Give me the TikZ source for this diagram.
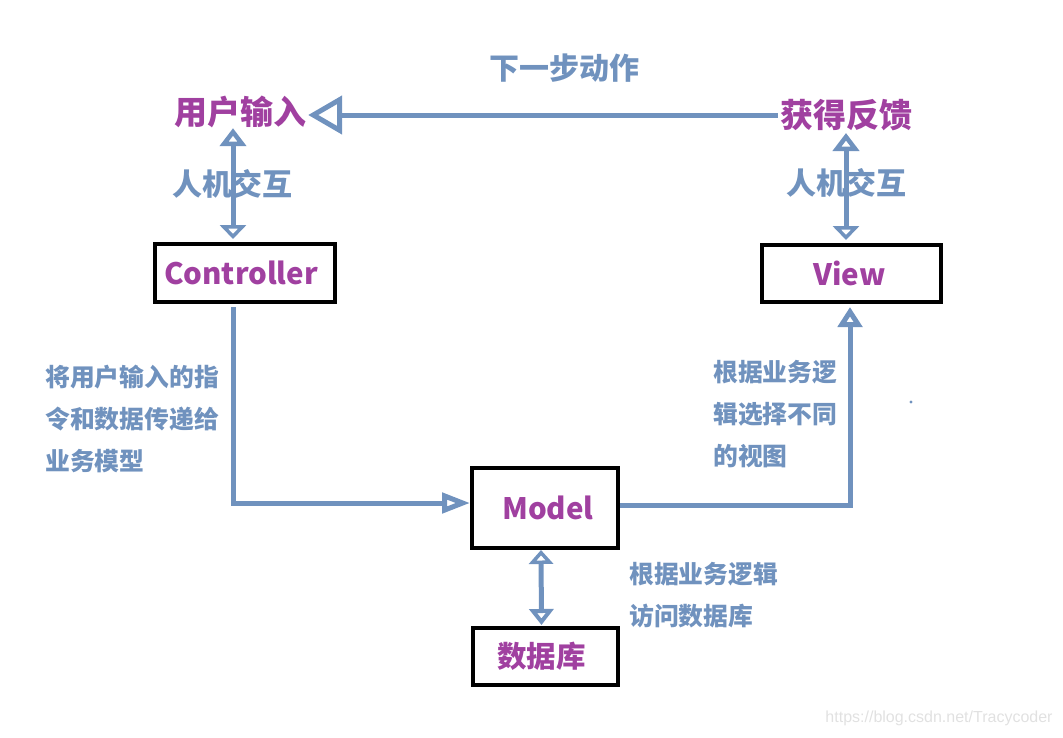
\documentclass[tikz,border=0pt]{standalone}
\usepackage{fontspec}
\setmainfont{Noto Sans CJK SC}
\newfontfamily\wmfont{Liberation Sans}
\usetikzlibrary{arrows.meta}
\definecolor{purp}{RGB}{160,64,160}
\definecolor{steel}{RGB}{112,146,190}
\definecolor{wm}{RGB}{225,225,225}
\tikzset{
  boxnode/.style={draw=black, line width=4pt, inner sep=0pt, text=purp, font=\fontsize{29.5}{32}\selectfont\bfseries},
  titletext/.style={inner sep=2pt, text=purp, font=\fontsize{33}{36}\selectfont\bfseries},
  bluetext/.style={inner sep=0pt, text=steel, font=\fontsize{30}{34}\selectfont\bfseries},
  notetext/.style={inner sep=0pt, text=steel, align=left, anchor=north west, font=\fontsize{24.8}{42}\selectfont\bfseries},
  conn/.style={draw=steel, line width=5pt},
}
\begin{document}
\begin{tikzpicture}[x=1pt,y=-1pt]
\useasboundingbox (0,0) rectangle (1063,737);
% labels
\node[titletext] (ui) at (240,112) {用户输入};
\node[titletext] (fb) at (846,115) {获得反馈};
\node[bluetext] (next) at (564,68) {下一步动作};
\node[bluetext] (hci1) at (232,184) {人机交互};
\node[bluetext] (hci2) at (846,183) {人机交互};
% boxes
\node[boxnode, minimum width=180pt, minimum height=58pt] (ctrl) at (245,273) {\raisebox{-3pt}{\hspace*{-8pt}Controller}};
\node[boxnode, minimum width=179pt, minimum height=57pt] (view) at (851.5,273.5) {\raisebox{-2pt}{\hspace*{-4pt}View}};
\node[boxnode, minimum width=146pt, minimum height=80pt] (model) at (545,508) {\raisebox{-2pt}{\hspace*{6pt}Model}};
\node[boxnode, minimum width=145pt, minimum height=57pt] (db) at (545.5,656.5) {\hspace*{-8pt}数据库};
% notes
\node[notetext] (n1) at (45,365) {将用户输入的指\\令和数据传递给\\业务模型};
\node[notetext] (n2) at (713,360) {根据业务逻\\辑选择不同\\的视图};
\node[notetext] (n3) at (629,562) {根据业务逻辑\\访问数据库};
% connectors
\draw[conn, -{Triangle[open,length=34pt,width=38pt,line width=5pt]}] (fb.west) -- (fb.west -| ui.east);
\draw[conn, {Triangle[open,length=18pt,width=26pt,line width=5pt]}-{Triangle[open,length=14pt,width=26pt,line width=5pt]}, shorten >=3pt, shorten <=-2pt]
  ([xshift=-12pt]ctrl.north |- ui.south) -- ([xshift=-12pt]ctrl.north);
\draw[conn, {Triangle[open,length=18pt,width=26pt,line width=5pt]}-{Triangle[open,length=14pt,width=26pt,line width=5pt]}, shorten >=3pt]
  (fb.south) -- (fb.south |- view.north);
\draw[conn, -{Triangle[open,length=28pt,width=20pt,line width=5pt]}, shorten <=3pt]
  ([xshift=-12pt]ctrl.south) |- ([yshift=5pt]model.west);
\draw[conn, -{Triangle[open,length=20pt,width=24pt,line width=5pt]}, shorten >=3pt]
  ([yshift=3pt]model.east) -| ([xshift=-1.5pt]view.south);
\draw[conn, {Triangle[open,length=14pt,width=24pt,line width=5pt]}-{Triangle[open,length=16pt,width=24pt,line width=5pt]}, shorten >=1pt]
  ([xshift=-4pt]model.south) -- ([xshift=-4pt]db.north);
% dot
\fill[steel] (911,402) circle (1.6pt);
% watermark
\node[inner sep=0pt, text=wm, font=\wmfont\fontsize{16}{18}\selectfont] (wmk) at (939,718) {https://blog.csdn.net/Tracycoder};
\end{tikzpicture}
\end{document}
